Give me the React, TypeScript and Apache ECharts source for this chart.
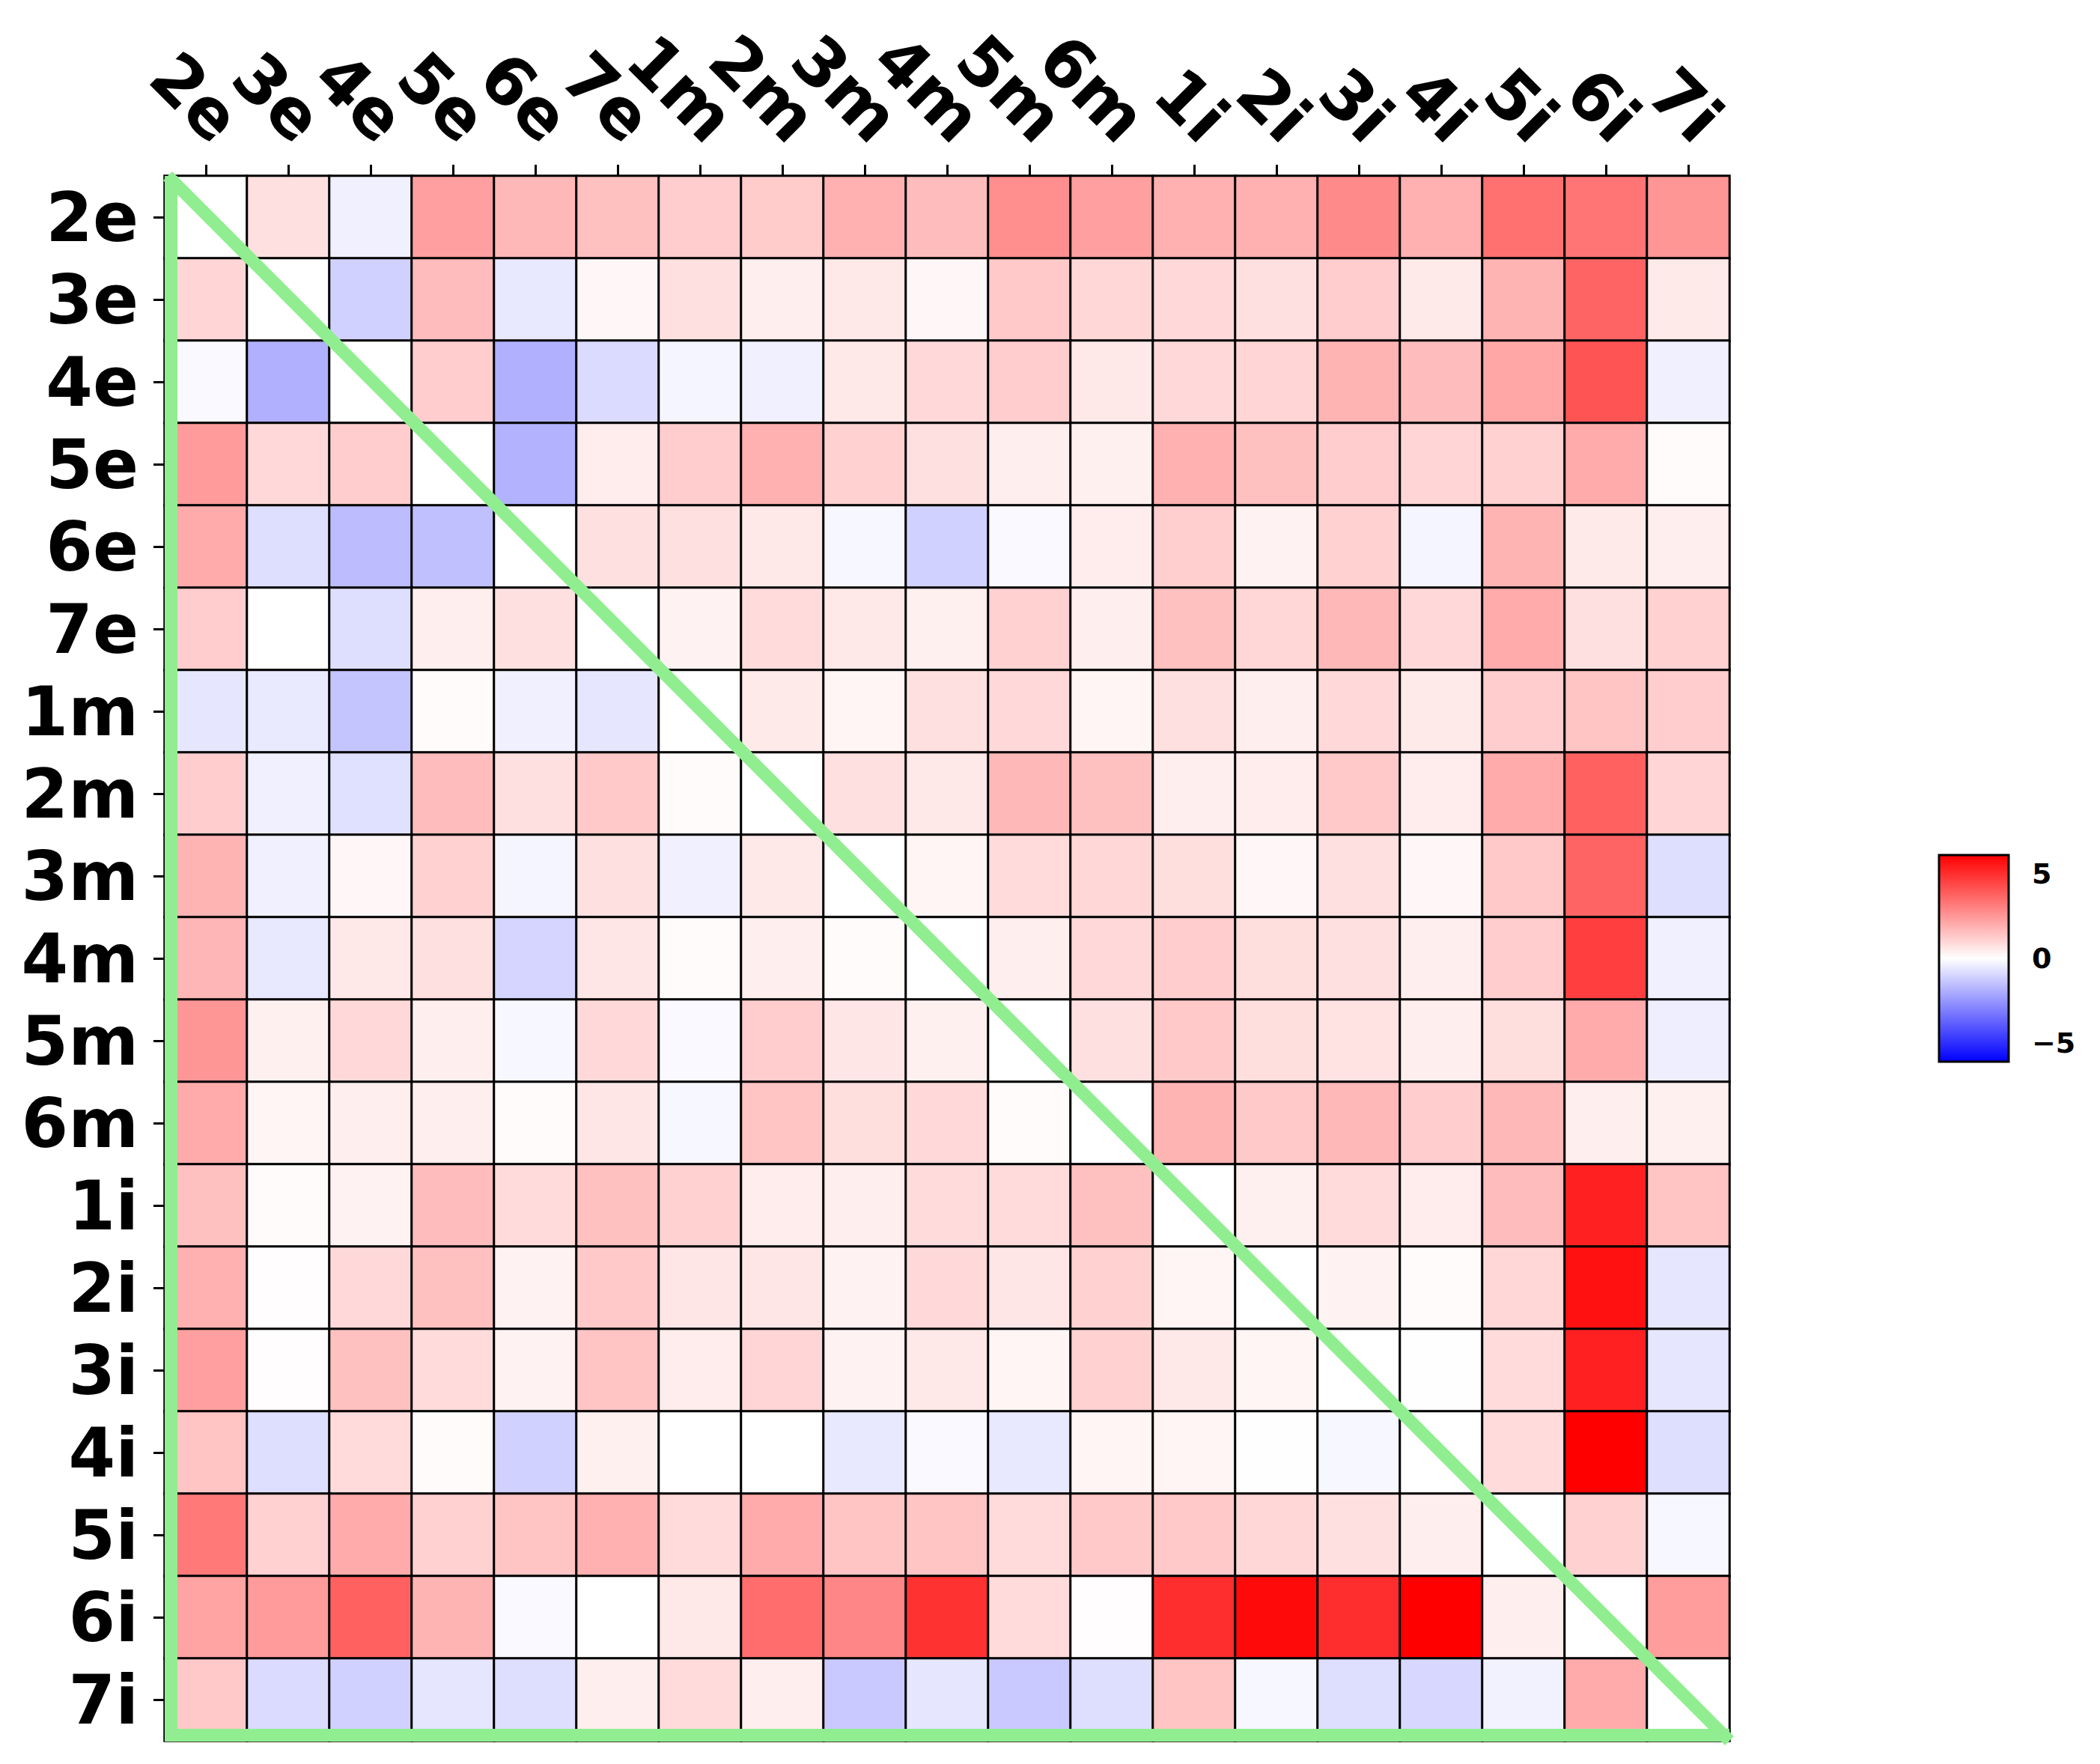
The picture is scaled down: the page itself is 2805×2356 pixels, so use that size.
import React, { useEffect, useRef } from 'react';
import * as echarts from 'echarts';

const labels = ['2e', '3e', '4e', '5e', '6e', '7e', '1m', '2m', '3m', '4m', '5m', '6m', '1i', '2i', '3i', '4i', '5i', '6i', '7i'];

const row2e = [0, 0.75, -0.35, 2.3, 1.7, 1.5, 1.2, 1.25, 1.9, 1.6, 2.7, 2.3, 1.9, 1.9, 2.8, 1.9, 3.4, 3.3, 2.5];
const row3e = [1.0, 0, -1.1, 1.6, -0.55, 0.2, 0.75, 0.4, 0.55, 0.2, 1.3, 0.95, 0.9, 0.75, 1.2, 0.5, 1.8, 3.7, 0.5];
const row4e = [-0.15, -1.9, 0, 1.2, -1.9, -0.85, -0.25, -0.35, 0.55, 0.9, 1.2, 0.55, 0.9, 1.0, 1.8, 1.6, 2.1, 4.1, -0.35];
const row5e = [2.4, 0.9, 1.2, 0, -1.85, 0.45, 1.2, 1.9, 1.1, 0.75, 0.4, 0.35, 1.9, 1.5, 1.2, 1.0, 1.1, 2.0, 0.1];
const row6e = [2.0, -0.8, -1.6, -1.5, 0, 0.75, 0.75, 0.55, -0.2, -1.1, -0.15, 0.45, 1.15, 0.3, 1.1, -0.25, 1.8, 0.5, 0.4];
const row7e = [1.2, 0, -0.8, 0.4, 0.75, 0, 0.3, 0.85, 0.55, 0.35, 1.1, 0.4, 1.5, 0.95, 1.7, 0.9, 2.0, 0.75, 1.1];
const row1m = [-0.6, -0.5, -1.4, 0.1, -0.35, -0.6, 0, 0.5, 0.25, 0.75, 0.9, 0.25, 0.75, 0.4, 0.9, 0.5, 1.2, 1.4, 1.2];
const row2m = [1.2, -0.35, -0.75, 1.6, 0.75, 1.3, 0.1, 0, 0.75, 0.55, 1.7, 1.5, 0.4, 0.45, 1.3, 0.45, 2.0, 3.8, 1.0];
const row3m = [1.8, -0.35, 0.2, 1.1, -0.25, 0.75, -0.35, 0.55, 0, 0.25, 0.85, 0.95, 0.8, 0.2, 0.75, 0.2, 1.3, 3.7, -0.8];
const row4m = [1.75, -0.55, 0.55, 0.75, -1.0, 0.6, 0.1, 0.4, 0.1, 0, 0.4, 0.9, 1.2, 0.8, 0.75, 0.4, 1.2, 4.6, -0.35];
const row5m = [2.5, 0.35, 0.9, 0.4, -0.2, 0.9, -0.15, 1.2, 0.6, 0.35, 0, 0.75, 1.3, 0.8, 0.7, 0.4, 0.8, 2.0, -0.4];
const row6m = [2.0, 0.25, 0.4, 0.4, 0.1, 0.6, -0.2, 1.4, 0.8, 0.9, 0.1, 0, 1.8, 1.3, 1.7, 1.2, 1.7, 0.4, 0.35];
const row1i = [1.5, 0.1, 0.3, 1.6, 0.85, 1.5, 1.1, 0.45, 0.4, 0.85, 0.85, 1.5, 0, 0.35, 0.85, 0.45, 1.6, 5.3, 1.4];
const row2i = [1.9, 0.05, 0.9, 1.5, 0.3, 1.3, 0.6, 0.6, 0.3, 0.9, 0.6, 1.1, 0.25, 0, 0.3, 0.1, 0.95, 5.7, -0.6];
const row3i = [2.3, 0.05, 1.5, 0.85, 0.3, 1.4, 0.45, 1.0, 0.3, 0.55, 0.25, 1.1, 0.55, 0.25, 0, 0.02, 0.85, 5.3, -0.6];
const row4i = [1.4, -0.8, 0.85, 0.1, -1.1, 0.35, 0, 0, -0.55, -0.15, -0.55, 0.25, 0.25, 0.02, -0.2, 0, 0.85, 6.1, -0.8];
const row5i = [3.2, 1.1, 2.0, 1.1, 1.4, 1.9, 0.85, 2.0, 1.4, 1.4, 0.85, 1.3, 1.3, 0.95, 0.75, 0.4, 0, 1.1, -0.2];
const row6i = [2.2, 2.4, 3.8, 1.8, -0.15, 0, 0.55, 3.5, 2.9, 4.9, 0.85, 0.05, 5.0, 5.85, 5.0, 6.1, 0.4, 0, 2.35];
const row7i = [1.3, -0.85, -1.1, -0.6, -0.8, 0.4, 0.85, 0.4, -1.3, -0.6, -1.3, -0.8, 1.4, -0.2, -0.8, -0.95, -0.3, 2.0, 0];

const matrix = [row2e, row3e, row4e, row5e, row6e, row7e, row1m, row2m, row3m, row4m, row5m, row6m, row1i, row2i, row3i, row4i, row5i, row6i, row7i];

const VMAX = 6.1;
const colorbarTicks = [-5, 0, 5];

export default function App() {
  const ref = useRef<HTMLDivElement>(null);
  useEffect(() => {
    if (!ref.current) return;
    const chart = echarts.init(ref.current, null, { renderer: 'svg' });
    const data: any[] = [];
    matrix.forEach((row, i) => row.forEach((v, j) => data.push([j, i, v])));

    const GL = 220, GT = 235, GW = 2090, GH = 2090;
    const CBL = 2590, CBT = 1142, CBW = 93, CBH = 276;
    const green = '#90ee90';
    const font = 'DejaVu Sans';

    chart.setOption({
      animation: false,
      backgroundColor: '#ffffff',
      grid: [
        { left: GL, top: GT, width: GW, height: GH },
        { left: CBL, top: CBT, width: CBW, height: CBH },
      ],
      xAxis: [
        {
          type: 'category', data: labels, position: 'top', gridIndex: 0,
          axisLine: { show: false },
          axisTick: { show: true, alignWithLabel: true, length: 15, lineStyle: { color: '#000', width: 3 } },
          axisLabel: {
            interval: 0, rotate: 45, fontSize: 90, fontWeight: 'bold', fontFamily: font, color: '#000',
            margin: 32, verticalAlign: 'bottom', lineHeight: 84,
          },
          splitLine: { show: false },
        },
        { type: 'value', gridIndex: 1, show: false, min: 0, max: 1 },
      ],
      yAxis: [
        {
          type: 'category', data: labels, inverse: true, gridIndex: 0,
          axisLine: { show: false },
          axisTick: { show: true, alignWithLabel: true, length: 15, lineStyle: { color: '#000', width: 3 } },
          axisLabel: { interval: 0, fontSize: 90, fontWeight: 'bold', fontFamily: font, color: '#000', margin: 35 },
          splitLine: { show: false },
        },
        {
          type: 'value', gridIndex: 1, min: -VMAX, max: VMAX, position: 'right',
          axisLine: { show: false },
          axisTick: { show: true, length: 14, lineStyle: { color: '#000', width: 3 }, customValues: colorbarTicks },
          axisLabel: {
            customValues: colorbarTicks, fontSize: 38, fontWeight: 'bold', fontFamily: font, color: '#000', margin: 31,
            formatter: (v: number) => String(v).replace('-', '\u2212'),
          },
          splitLine: { show: false },
        },
      ],
      visualMap: {
        show: false, min: -VMAX, max: VMAX, seriesIndex: 0, dimension: 2,
        inRange: { color: ['#0000ff', '#ffffff', '#ff0000'] },
      },
      series: [
        {
          type: 'heatmap', xAxisIndex: 0, yAxisIndex: 0, data,
          itemStyle: { borderColor: '#000', borderWidth: 3 },
          emphasis: { disabled: true },
        },
      ],
      graphic: [
        {
          type: 'rect', z: 10,
          shape: { x: CBL, y: CBT, width: CBW, height: CBH },
          style: {
            fill: new echarts.graphic.LinearGradient(0, 0, 0, 1, [
              { offset: 0, color: '#ff0000' },
              { offset: 0.5, color: '#ffffff' },
              { offset: 1, color: '#0000ff' },
            ]),
            stroke: '#000', lineWidth: 3,
          },
        },
        {
          type: 'line', z: 100,
          shape: { x1: GL + 8.5, y1: GT, x2: GL + 8.5, y2: GT + GH + 1 },
          style: { stroke: green, lineWidth: 17 },
        },
        {
          type: 'line', z: 100,
          shape: { x1: GL, y1: GT + GH - 7.5, x2: GL + GW, y2: GT + GH - 7.5 },
          style: { stroke: green, lineWidth: 17 },
        },
        {
          type: 'line', z: 100,
          shape: { x1: GL + 4, y1: GT, x2: GL + GW, y2: GT + GH },
          style: { stroke: green, lineWidth: 17 },
        },
      ],
    });
    return () => chart.dispose();
  }, []);
  return <div ref={ref} style={{ position: 'absolute', left: 0, top: 0, width: 2805, height: 2356 }} />;
}
